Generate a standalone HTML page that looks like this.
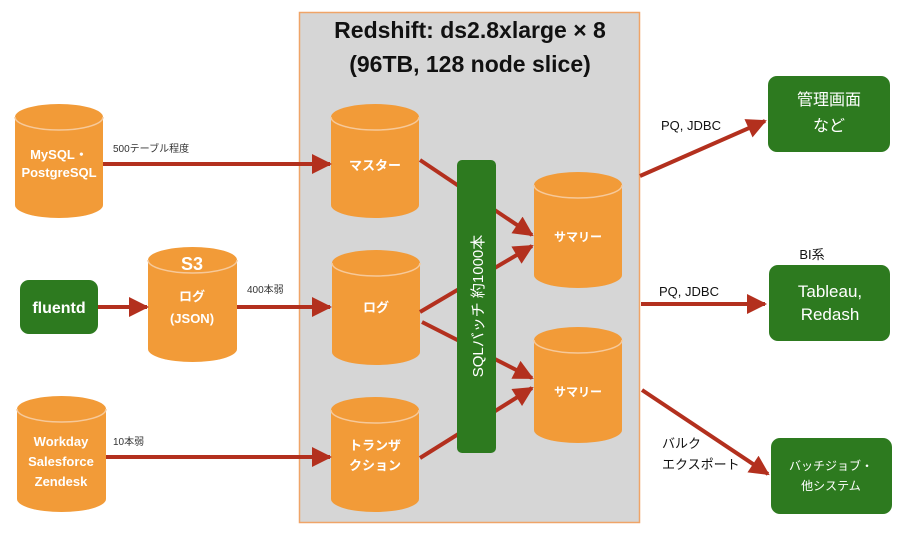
<!DOCTYPE html>
<html><head><meta charset="utf-8"><style>
body{margin:0;background:#fff;}
svg text{font-family:"Liberation Sans","Noto Sans CJK JP",sans-serif;}
</style></head><body>
<svg width="904" height="536" viewBox="0 0 904 536" xmlns="http://www.w3.org/2000/svg">
<defs>
<marker id="ah" viewBox="0 0 10 10" refX="9" refY="5" markerWidth="5.5" markerHeight="5" orient="auto" markerUnits="strokeWidth">
<path d="M0,0 L10,5 L0,10 Z" fill="#b3301e"/></marker>
</defs>
<rect x="299.5" y="12.5" width="340" height="510" fill="#d6d6d6" stroke="#efa468" stroke-width="1.5"/>
<text x="470" y="38" font-size="23" font-weight="bold" text-anchor="middle" fill="#111">Redshift: ds2.8xlarge × 8</text>
<text x="470" y="72" font-size="23" font-weight="bold" text-anchor="middle" fill="#111">(96TB, 128 node slice)</text>

<g fill="#f29b38">
<path d="M15 117 A44 13 0 0 1 103 117 V205 A44 13 0 0 1 15 205 Z"/>
<path d="M148 260 A44.5 13 0 0 1 237 260 V349 A44.5 13 0 0 1 148 349 Z"/>
<path d="M17 409 A44.5 13 0 0 1 106 409 V499 A44.5 13 0 0 1 17 499 Z"/>
<path d="M331 117 A44 13 0 0 1 419 117 V205 A44 13 0 0 1 331 205 Z"/>
<path d="M332 263 A44 13 0 0 1 420 263 V352 A44 13 0 0 1 332 352 Z"/>
<path d="M331 410 A44 13 0 0 1 419 410 V499 A44 13 0 0 1 331 499 Z"/>
<path d="M534 185 A44 13 0 0 1 622 185 V275 A44 13 0 0 1 534 275 Z"/>
<path d="M534 340 A44 13 0 0 1 622 340 V430 A44 13 0 0 1 534 430 Z"/>
</g>
<g fill="none" stroke="#f6c99a" stroke-width="1.5">
<path d="M15 117 A44 13 0 0 0 103 117"/>
<path d="M148 260 A44.5 13 0 0 0 237 260"/>
<path d="M17 409 A44.5 13 0 0 0 106 409"/>
<path d="M331 117 A44 13 0 0 0 419 117"/>
<path d="M332 263 A44 13 0 0 0 420 263"/>
<path d="M331 410 A44 13 0 0 0 419 410"/>
<path d="M534 185 A44 13 0 0 0 622 185"/>
<path d="M534 340 A44 13 0 0 0 622 340"/>
</g>

<g stroke="#b3301e" stroke-width="4" fill="none" marker-end="url(#ah)">
<line x1="103" y1="164" x2="330" y2="164"/>
<line x1="98" y1="307" x2="147" y2="307"/>
<line x1="237" y1="307" x2="330" y2="307"/>
<line x1="106" y1="457" x2="330" y2="457"/>
<line x1="420" y1="160" x2="532" y2="235"/>
<line x1="420" y1="312" x2="532" y2="246"/>
<line x1="422" y1="322" x2="532" y2="378"/>
<line x1="420" y1="458" x2="532" y2="388"/>
<line x1="640" y1="176" x2="765" y2="121"/>
<line x1="641" y1="304" x2="765" y2="304"/>
<line x1="642" y1="390" x2="768" y2="474"/>
</g>

<g fill="#2d7a1f">
<rect x="20" y="280" width="78" height="54" rx="9"/>
<rect x="457" y="160" width="39" height="293" rx="5"/>
<rect x="768" y="76" width="122" height="76" rx="9"/>
<rect x="769" y="265" width="121" height="76" rx="9"/>
<rect x="771" y="438" width="121" height="76" rx="9"/>
</g>

<g fill="#fff" font-weight="bold" text-anchor="middle">
<text x="59" y="159" font-size="13">MySQL・</text>
<text x="59" y="177" font-size="13">PostgreSQL</text>
<text x="192" y="270" font-size="18">S3</text>
<text x="192" y="301" font-size="13">ログ</text>
<text x="192" y="323" font-size="13">(JSON)</text>
<text x="61" y="446" font-size="13">Workday</text>
<text x="61" y="466" font-size="13">Salesforce</text>
<text x="61" y="486" font-size="13">Zendesk</text>
<text x="375" y="170" font-size="13">マスター</text>
<text x="376" y="312" font-size="13">ログ</text>
<text x="375" y="450" font-size="13">トランザ</text>
<text x="375" y="470" font-size="13">クション</text>
<text x="578" y="241" font-size="12">サマリー</text>
<text x="578" y="396" font-size="12">サマリー</text>
<text x="59" y="313" font-size="16">fluentd</text>
</g>
<g fill="#fff" text-anchor="middle">
<text transform="translate(483,306) rotate(-90)" font-size="15" text-anchor="middle">SQLバッチ 約1000本</text>
<text x="829" y="105" font-size="16">管理画面</text>
<text x="829" y="131" font-size="16">など</text>
<text x="830" y="297" font-size="17">Tableau,</text>
<text x="830" y="320" font-size="17">Redash</text>
<text x="831" y="470" font-size="12">バッチジョブ・</text>
<text x="831" y="490" font-size="12">他システム</text>
</g>
<g fill="#333" font-size="10">
<text x="113" y="152">500テーブル程度</text>
<text x="247" y="293">400本弱</text>
<text x="113" y="445">10本弱</text>
</g>
<g fill="#111" font-size="13">
<text x="661" y="130">PQ, JDBC</text>
<text x="659" y="296">PQ, JDBC</text>
<text x="812" y="259" text-anchor="middle">BI系</text>
<text x="662" y="448">バルク</text>
<text x="662" y="469">エクスポート</text>
</g>
</svg>
</body></html>
